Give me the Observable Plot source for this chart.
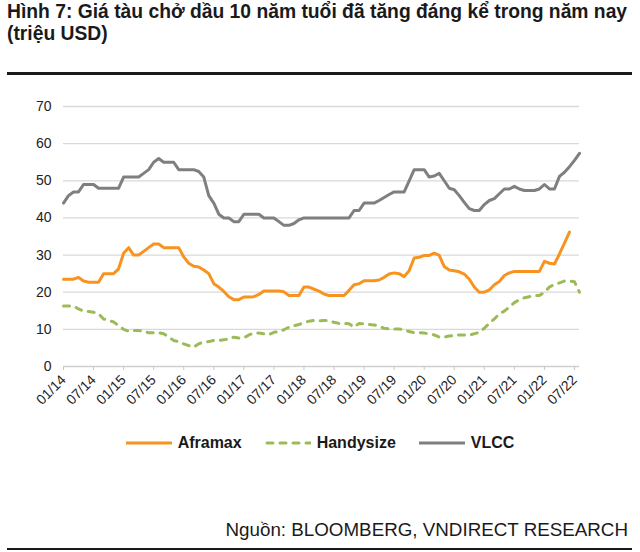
<!DOCTYPE html>
<html><head><meta charset="utf-8">
<script src="https://cdn.jsdelivr.net/npm/d3@7"></script>
<script src="https://cdn.jsdelivr.net/npm/@observablehq/plot@0.6"></script>
<style>
body{margin:0;background:#fff;font-family:"Liberation Sans",Arial,sans-serif;color:#1a1a1a;}
#wrap{position:relative;width:640px;height:552px;overflow:hidden;}
.title{position:absolute;left:7px;top:1px;font-weight:bold;font-size:19.3px;line-height:22px;white-space:nowrap;}
.rule{position:absolute;left:7px;width:625px;background:#1a1a1a;}
#chart{position:absolute;left:0;top:90px;}
.legend{position:absolute;top:433px;left:0;width:640px;display:flex;justify-content:center;align-items:center;font-weight:bold;font-size:16px;line-height:20px;}
.legend .item{display:flex;align-items:center;margin:0 11.5px;}
.legend svg{margin-right:6px;}
.source{position:absolute;right:12px;top:519px;font-size:18.8px;line-height:21px;white-space:nowrap;}
</style></head>
<body>
<div id="wrap">
  <div class="title">Hình 7: Giá tàu chở dầu 10 năm tuổi đã tăng đáng kể trong năm nay<br>(triệu USD)</div>
  <div class="rule" style="top:72px;height:3px;"></div>
  <div id="chart"></div>
  <div class="legend" id="legend"></div>
  <div class="source">Nguồn: BLOOMBERG, VNDIRECT RESEARCH</div>
  <div class="rule" style="top:548px;height:2px;"></div>
</div>
<script>
// Monthly values, starting 01/2014
const aframax = [23.5,23.5,23.5,24,23,22.7,22.7,22.7,25,25,25,26.3,30.5,32,30,30,31,32,33,33,32,32,32,32,29.5,27.8,27,26.8,26,25,22.3,21.4,20.2,18.8,18,18,18.7,18.7,18.8,19.4,20.3,20.3,20.3,20.3,20.1,19.1,19.1,19.1,21.4,21.4,20.8,20.3,19.5,19.1,19.1,19.1,19.1,20.5,22,22.3,23.1,23.1,23.1,23.3,24,24.9,25.2,25,24.2,25.8,29.2,29.4,29.9,29.9,30.5,29.9,26.9,26,25.8,25.5,24.9,23.5,21.4,20,20,20.6,22,22.9,24.5,25.2,25.6,25.6,25.6,25.6,25.6,25.6,28.3,27.8,27.6,30.3,33.2,36.2];
const handysize = [16.3,16.3,16.3,15.5,14.9,14.8,14.6,14.2,12.8,12.4,12,11,10,9.5,9.7,9.7,9.5,9.1,9.1,9.1,8.8,7.9,7,6.7,6.1,5.6,5.2,6.1,6.6,6.7,7,7,7.2,7.4,7.9,7.7,7.7,8.5,9,9,8.8,8.6,9.2,9.4,9.9,10.6,11,11.3,11.8,12.2,12.4,12.3,12.4,12.3,11.9,11.6,11.6,11.5,10.6,11.6,11.5,11.3,11.2,10.8,10.3,10.1,10.1,10.1,9.9,9.4,9.1,9.1,9,8.8,8.5,7.9,7.9,8.2,8.3,8.5,8.5,8.5,8.8,9.2,10.3,11.6,12.8,14.2,14.9,16,17.2,18,18.5,18.8,19.1,19.1,20,21.4,22.1,22.5,23,23,22.8,20];
const vlcc = [44,46,47,47,49,49,49,48,48,48,48,48,51,51,51,51,52,53,55,56,55,55,55,53,53,53,53,52.5,51,46,44,41,40,40,39,39,41,41,41,41,40,40,40,39,38,38,38.5,39.5,40,40,40,40,40,40,40,40,40,40,42,42,44,44,44,44.7,45.5,46.3,47,47,47,50,53,53,53,51,51.3,52,50,48,47.6,46,44.2,42.5,42,42,43.6,44.7,45.2,46.5,47.8,47.8,48.5,47.8,47.4,47.4,47.4,47.8,49,47.8,47.8,51.2,52.3,53.8,55.5,57.4];
const tickLabels = ["01/14","07/14","01/15","07/15","01/16","07/16","01/17","07/17","01/18","07/18","01/19","07/19","01/20","07/20","01/21","07/21","01/22","07/22"];
const yTicks = [0,10,20,30,40,50,60,70];
const seriesNames = ["Aframax","Handysize","VLCC"];
const seriesColors = ["#f7931e","#9bbb59","#7f7f7f"];

const xTicks = tickLabels.map((_, i) => i * 6);
const toRows = arr => arr.map((v, i) => ({m: i, v}));

const chart = Plot.plot({
  width: 640, height: 340,
  marginTop: 16, marginBottom: 64, marginLeft: 63, marginRight: 61,
  style: {fontFamily: "'Liberation Sans', Arial, sans-serif", fontSize: "14px", color: "#222", background: "transparent", overflow: "visible"},
  x: {domain: [0, 103]},
  y: {domain: [0, 70]},
  marks: [
    Plot.gridY(yTicks.filter(d => d > 0), {stroke: "#d9d9d9", strokeOpacity: 1, strokeWidth: 1.3}),
    Plot.ruleY([0], {stroke: "#d0d0d0", strokeWidth: 1.3}),
    Plot.axisY({ticks: yTicks, tickSize: 0, tickPadding: 12, fill: "#222", fontSize: 14, label: null}),
    Plot.axisX({ticks: xTicks, tickFormat: d => tickLabels[d / 6], tickRotate: -45, tickSize: 4, tickPadding: 7, stroke: "#c8c8c8", fill: "#222", fontSize: 14, label: null}),
    Plot.lineY(toRows(handysize), {x: "m", y: "v", stroke: seriesColors[1], strokeWidth: 3, strokeDasharray: "6,7", strokeLinecap: "round"}),
    Plot.lineY(toRows(aframax), {x: "m", y: "v", stroke: seriesColors[0], strokeWidth: 3}),
    Plot.lineY(toRows(vlcc), {x: "m", y: "v", stroke: seriesColors[2], strokeWidth: 3})
  ]
});
document.getElementById("chart").appendChild(chart);

const legend = document.getElementById("legend");
seriesNames.forEach((name, i) => {
  const item = document.createElement("div");
  item.className = "item";
  const dash = i === 1 ? ' stroke-dasharray="6,7" stroke-linecap="round"' : '';
  item.innerHTML = `<svg width="46" height="10"><line x1="${i===1?2:0}" y1="5" x2="46" y2="5" stroke="${seriesColors[i]}" stroke-width="3"${dash}/></svg><span>${name}</span>`;
  legend.appendChild(item);
});
</script>
</body></html>
